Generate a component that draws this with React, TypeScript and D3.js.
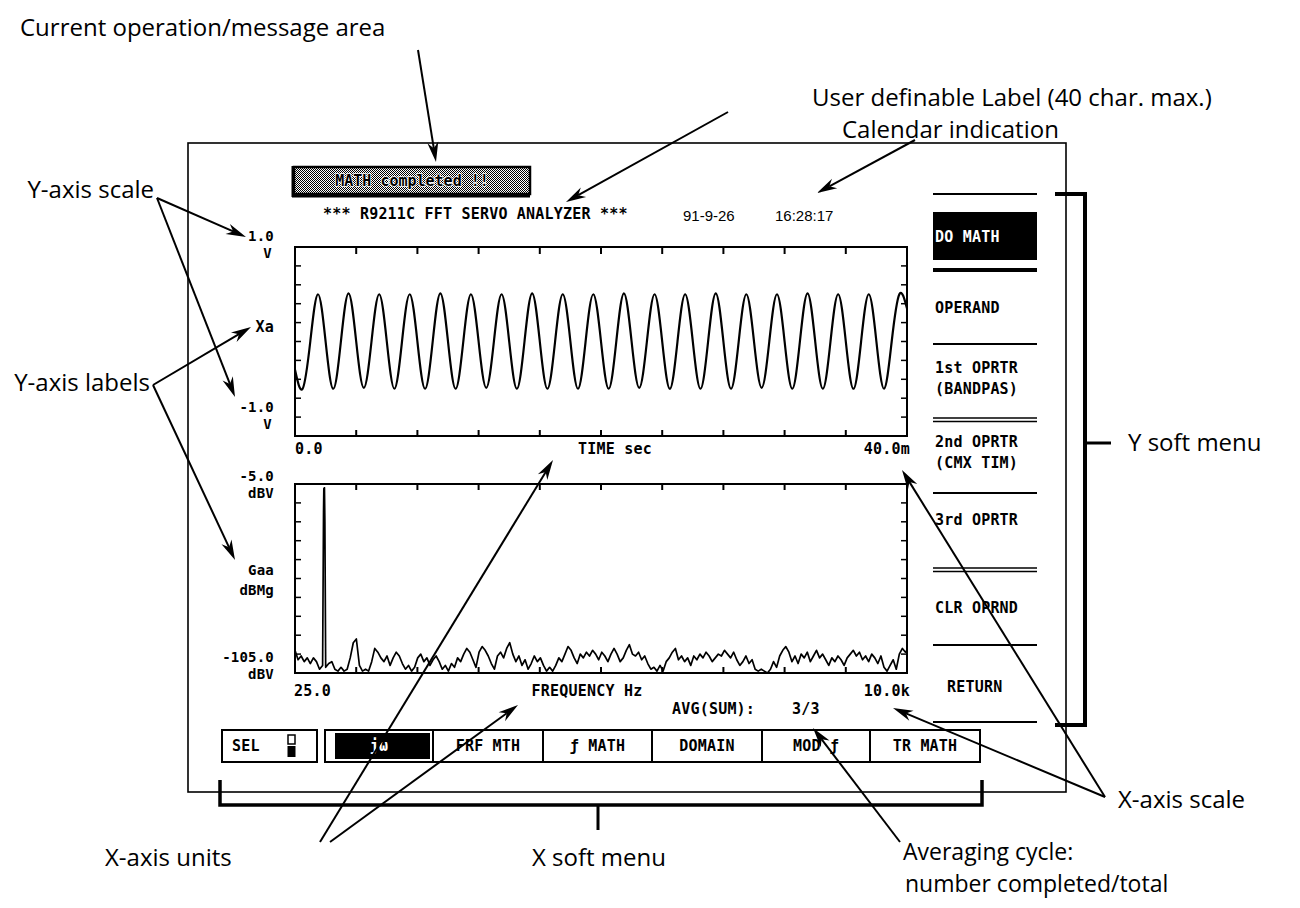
import React from 'react';
import * as d3 from 'd3';

// ---------------- DATA ----------------
const sampleIntervalMs = 0.5;
const waveVolts = [
  -0.30,
  -0.50, 0.00, 0.50, 0.00,
  -0.50, 0.00, 0.51, 0.00,
  -0.49, 0.00, 0.50, 0.00,
  -0.50, 0.01, 0.50, 0.00,
  -0.50, 0.00, 0.51, 0.00,
  -0.50, 0.00, 0.50, 0.00,
  -0.49, 0.00, 0.50, 0.00,
  -0.50, 0.00, 0.51, 0.00,
  -0.50, 0.00, 0.50, 0.00,
  -0.50, 0.01, 0.50, 0.00,
  -0.50, 0.00, 0.51, 0.00,
  -0.49, 0.00, 0.50, 0.00,
  -0.50, 0.00, 0.50, 0.00,
  -0.50, 0.00, 0.51, 0.00,
  -0.50, 0.00, 0.50, 0.00,
  -0.49, 0.00, 0.50, 0.00,
  -0.50, 0.00, 0.51, 0.00,
  -0.50, 0.00, 0.50, 0.00,
  -0.50, 0.00, 0.50, 0.00,
  -0.50, 0.00, 0.50, 0.35,
];

const spectrumStartHz = 25;
const spectrumStepHz = 50;
const noiseDbv = [
  -93, -98, -96, -99, -97, -100, -97, -99, -103, -101,
  -102, -100, -99, -103, -104, -102, -104, -103, -97, -89,
  -87, -101, -104, -103, -104, -99, -92, -94, -97, -99,
  -96, -101, -97, -94, -96, -100, -103, -101, -104, -102,
  -97, -95, -99, -97, -101, -98, -96, -99, -103, -101,
  -104, -100, -102, -97, -99, -95, -92, -94, -98, -102,
  -94, -91, -93, -96, -100, -103, -96, -94, -97, -92,
  -89, -95, -99, -96, -101, -98, -103, -100, -96, -99,
  -97, -101, -104, -102, -104, -101, -97, -99, -95, -91,
  -93, -97, -100, -95, -97, -94, -96, -93, -95, -98,
  -94, -96, -99, -95, -92, -95, -99, -97, -93, -90,
  -95, -96, -94, -98, -96, -100, -103, -102, -104, -101,
  -104, -99, -97, -94, -92, -98, -96, -99, -97, -101,
  -96, -98, -95, -97, -94, -96, -99, -97, -95, -96,
  -93, -95, -97, -94, -98, -101, -99, -96, -100, -98,
  -103, -104, -103, -104, -105, -103, -99, -102, -96, -93,
  -91, -94, -99, -96, -100, -95, -97, -94, -99, -96,
  -93, -97, -95, -98, -101, -97, -99, -96, -98, -101,
  -97, -95, -93, -96, -94, -98, -96, -99, -95, -97,
  -100, -96, -102, -104, -101, -98, -103, -95, -92, -94,
];
const spectrumEndHz = 10000;
const spectrumEndDbv = -93;
const carrierHz = [490, 495, 505, 512];
const carrierDbv = [-20, -7.5, -7, -25];

const timeTicksMs = [4, 8, 12, 16, 20, 24, 28, 32, 36];
const voltTicks = [-0.8, -0.6, -0.4, -0.2, 0, 0.2, 0.4, 0.6, 0.8];
const freqTicksHz = [1022.5, 2020, 3017.5, 4015, 5012.5, 6010, 7007.5, 8005, 9002.5];
const dbTicks = [-95, -85, -75, -65, -55, -45, -35, -25, -15];

const ySoftMenu = [
  ['DO MATH'],
  ['OPERAND'],
  ['1st OPRTR', '(BANDPAS)'],
  ['2nd OPRTR', '(CMX TIM)'],
  ['3rd OPRTR'],
  ['CLR OPRND'],
  ['RETURN'],
];
const xSoftMenu = ['jω', 'FRF MTH', 'ƒ MATH', 'DOMAIN', 'MOD ƒ', 'TR MATH'];

// ---------------- LAYOUT ----------------
const W = 1300, H = 908;
const PX0 = 295, PX1 = 907;
const TOP = { y0: 247, y1: 436 };
const BOT = { y0: 484, y1: 673 };
const MONO = "'DejaVu Sans Mono', monospace";
const SANS = "'Open Sans', 'Noto Sans', sans-serif";

function Arrow({ x1, y1, x2, y2 }: { x1: number; y1: number; x2: number; y2: number }) {
  const a = Math.atan2(y2 - y1, x2 - x1);
  const L = 20, hw = 5.5;
  const dx = Math.cos(a), dy = Math.sin(a);
  const px = -dy, py = dx;
  const bl = [x2 - L * dx + hw * px, y2 - L * dy + hw * py];
  const br = [x2 - L * dx - hw * px, y2 - L * dy - hw * py];
  const notch = [x2 - 0.7 * L * dx, y2 - 0.7 * L * dy];
  return (
    <g>
      <line x1={x1} y1={y1} x2={notch[0]} y2={notch[1]} stroke="#000" strokeWidth={2} />
      <polygon points={`${x2},${y2} ${bl[0]},${bl[1]} ${notch[0]},${notch[1]} ${br[0]},${br[1]}`} fill="#000" />
    </g>
  );
}

function Screen(props: any) {
  const { children, ...rest } = props;
  return (
    <text fontFamily={MONO} fontWeight="bold" fontSize={15} letterSpacing={0.2} fill="#000" {...rest}>
      {children}
    </text>
  );
}

function Note(props: any) {
  const { children, ...rest } = props;
  return (
    <text fontFamily={SANS} fontSize={24} fill="#000" {...rest}>
      {children}
    </text>
  );
}

export default function App() {
  const xTime = d3.scaleLinear().domain([0, 40]).range([PX0, PX1]);
  const yVolt = d3.scaleLinear().domain([-1, 1]).range([TOP.y1, TOP.y0]);
  const xFreq = d3.scaleLinear().domain([25, 10000]).range([PX0, PX1]);
  const yDb = d3.scaleLinear().domain([-105, -5]).range([BOT.y1, BOT.y0]);

  const wavePts = waveVolts.map((v, i) => [i * sampleIntervalMs, v] as [number, number]);
  const wavePath = d3.line<[number, number]>()
    .x(d => xTime(d[0]))
    .y(d => yVolt(d[1]))
    .curve(d3.curveNatural)(wavePts) || '';

  const specPts: [number, number][] = noiseDbv.map((v, i) => [spectrumStartHz + i * spectrumStepHz, v] as [number, number]);
  specPts.push([spectrumEndHz, spectrumEndDbv]);
  carrierHz.forEach((f, i) => specPts.push([f, carrierDbv[i]]));
  specPts.sort((a, b) => a[0] - b[0]);
  const specPath = d3.line<[number, number]>()
    .x(d => xFreq(d[0]))
    .y(d => yDb(Math.max(-105, d[1])))(specPts) || '';

  const tickLen = 6;

  const plotFrame = (y0: number, y1: number) => (
    <rect x={PX0} y={y0} width={PX1 - PX0} height={y1 - y0} fill="none" stroke="#000" strokeWidth={2} />
  );

  const seps = [
    { y: 194, w: 2, dbl: false },
    { y: 270, w: 4, dbl: false },
    { y: 344, w: 2, dbl: false },
    { y: 420, w: 2, dbl: true },
    { y: 493, w: 2, dbl: false },
    { y: 570, w: 2, dbl: true },
    { y: 645, w: 2, dbl: false },
    { y: 722, w: 2, dbl: false },
  ];
  const menuCenters = [237, 308, 378, 452, 520, 608, 687];
  const MX0 = 933, MX1 = 1037;

  const cellEdges = [325, 433, 543, 652, 762, 870, 980];
  const BY0 = 730, BY1 = 762;

  return (
    <svg width={W} height={H} style={{ position: 'absolute', left: 0, top: 0, background: '#fff' }}>
      <defs>
        <pattern id="stipple" width={2} height={2} patternUnits="userSpaceOnUse">
          <rect width={2} height={2} fill="#fff" />
          <rect x={0} y={0} width={1} height={1} fill="#000" />
          <rect x={1} y={1} width={1} height={1} fill="#000" />
        </pattern>
      </defs>
      <rect width={W} height={H} fill="#fff" />

      {/* screen frame */}
      <rect x={188} y={143} width={878} height={649} fill="none" stroke="#000" strokeWidth={1.6} />

      {/* message area */}
      <rect x={294} y={167} width={236} height={27} fill="url(#stipple)" stroke="#000" strokeWidth={2.5} />
      <line x1={293} y1={166} x2={293} y2={197} stroke="#000" strokeWidth={3} />
      <line x1={292} y1={196} x2={530} y2={196} stroke="#000" strokeWidth={3} />
      <text x={412} y={186} textAnchor="middle" fontFamily={MONO} fontWeight="bold" fontSize={15} fill="#000"
        stroke="#fff" strokeWidth={1.5} paintOrder="stroke">MATH completed !!</text>

      <Screen x={323} y={219}>*** R9211C FFT SERVO ANALYZER ***</Screen>
      <text x={683} y={221} fontFamily="'Liberation Sans', Arial, sans-serif" fontSize={15} fill="#000">91-9-26</text>
      <text x={775} y={221} fontFamily="'Liberation Sans', Arial, sans-serif" fontSize={15} fill="#000">16:28:17</text>

      {/* ---------- top plot (time) ---------- */}
      {plotFrame(TOP.y0, TOP.y1)}
      {voltTicks.map(v => (
        <g key={'vt' + v}>
          <line x1={PX0} x2={PX0 + tickLen} y1={yVolt(v)} y2={yVolt(v)} stroke="#000" strokeWidth={1.5} />
          <line x1={PX1} x2={PX1 - tickLen} y1={yVolt(v)} y2={yVolt(v)} stroke="#000" strokeWidth={1.5} />
        </g>
      ))}
      {timeTicksMs.map(t => (
        <g key={'tt' + t}>
          <line x1={xTime(t)} x2={xTime(t)} y1={TOP.y0} y2={TOP.y0 + tickLen + 1} stroke="#000" strokeWidth={2} />
          <line x1={xTime(t)} x2={xTime(t)} y1={TOP.y1} y2={TOP.y1 - tickLen} stroke="#000" strokeWidth={2} />
        </g>
      ))}
      <path d={wavePath} fill="none" stroke="#000" strokeWidth={2.2} />

      <Screen x={274} y={241} fontSize={14} textAnchor="end">1.0</Screen>
      <Screen x={272} y={258} fontSize={14} textAnchor="end">V</Screen>
      <Screen x={274} y={332} textAnchor="end">Xa</Screen>
      <Screen x={274} y={412} fontSize={14} textAnchor="end">-1.0</Screen>
      <Screen x={272} y={429} fontSize={14} textAnchor="end">V</Screen>
      <Screen x={295} y={454}>0.0</Screen>
      <Screen x={615} y={454} textAnchor="middle">TIME sec</Screen>
      <Screen x={910} y={454} textAnchor="end">40.0m</Screen>

      {/* ---------- bottom plot (spectrum) ---------- */}
      {plotFrame(BOT.y0, BOT.y1)}
      {dbTicks.map(v => (
        <g key={'dt' + v}>
          <line x1={PX0} x2={PX0 + tickLen} y1={yDb(v)} y2={yDb(v)} stroke="#000" strokeWidth={1.5} />
          <line x1={PX1} x2={PX1 - tickLen} y1={yDb(v)} y2={yDb(v)} stroke="#000" strokeWidth={1.5} />
        </g>
      ))}
      {freqTicksHz.map(f => (
        <g key={'ft' + f}>
          <line x1={xFreq(f)} x2={xFreq(f)} y1={BOT.y0} y2={BOT.y0 + tickLen} stroke="#000" strokeWidth={2} />
          <line x1={xFreq(f)} x2={xFreq(f)} y1={BOT.y1} y2={BOT.y1 - tickLen} stroke="#000" strokeWidth={2} />
        </g>
      ))}
      <path d={specPath} fill="none" stroke="#000" strokeWidth={1.7} strokeLinejoin="round" />

      <Screen x={274} y={481} fontSize={14} textAnchor="end">-5.0</Screen>
      <Screen x={274} y={498} fontSize={14} textAnchor="end">dBV</Screen>
      <Screen x={274} y={575} fontSize={14} textAnchor="end">Gaa</Screen>
      <Screen x={274} y={595} fontSize={14} textAnchor="end">dBMg</Screen>
      <Screen x={274} y={662} fontSize={14} textAnchor="end">-105.0</Screen>
      <Screen x={274} y={679} fontSize={14} textAnchor="end">dBV</Screen>
      <Screen x={294} y={696}>25.0</Screen>
      <Screen x={587} y={696} textAnchor="middle">FREQUENCY Hz</Screen>
      <Screen x={910} y={696} textAnchor="end">10.0k</Screen>
      <Screen x={672} y={714}>AVG(SUM):</Screen>
      <Screen x={792} y={714}>3/3</Screen>

      {/* ---------- Y soft menu ---------- */}
      {seps.map((s, i) => s.dbl ? (
        <g key={'sep' + i}>
          <line x1={MX0} x2={MX1} y1={s.y - 2} y2={s.y - 2} stroke="#000" strokeWidth={1.6} />
          <line x1={MX0} x2={MX1} y1={s.y + 1.5} y2={s.y + 1.5} stroke="#000" strokeWidth={1.6} />
        </g>
      ) : (
        <line key={'sep' + i} x1={MX0} x2={MX1} y1={s.y} y2={s.y} stroke="#000" strokeWidth={s.w} />
      ))}
      <rect x={MX0} y={212} width={MX1 - MX0} height={48} fill="#000" />
      {ySoftMenu.map((lines, i) => {
        const cy = menuCenters[i];
        const n = lines.length;
        return lines.map((ln, j) => (
          <Screen key={'ym' + i + j}
            x={ln === 'RETURN' ? 947 : 935}
            y={cy + 5 + (j - (n - 1) / 2) * 21}
            fill={i === 0 ? '#fff' : '#000'}>{ln}</Screen>
        ));
      })}

      {/* ---------- X soft menu ---------- */}
      <rect x={222} y={BY0} width={95} height={BY1 - BY0} fill="none" stroke="#000" strokeWidth={2} />
      <Screen x={232} y={751}>SEL</Screen>
      <rect x={288} y={735} width={7} height={9} fill="none" stroke="#000" strokeWidth={1.5} />
      <rect x={287.5} y={746} width={8} height={11} fill="#000" />
      <rect x={cellEdges[0]} y={BY0} width={cellEdges[6] - cellEdges[0]} height={BY1 - BY0} fill="none" stroke="#000" strokeWidth={2} />
      {cellEdges.slice(1, 6).map(x => (
        <line key={'ce' + x} x1={x} x2={x} y1={BY0} y2={BY1} stroke="#000" strokeWidth={2} />
      ))}
      <rect x={335} y={733} width={95} height={26} fill="#000" />
      {xSoftMenu.map((lab, i) => (
        <Screen key={'xm' + i} x={(cellEdges[i] + cellEdges[i + 1]) / 2} y={751} textAnchor="middle"
          fill={i === 0 ? '#fff' : '#000'}>{lab}</Screen>
      ))}

      {/* ---------- brackets ---------- */}
      <path d="M1055,194 H1085 V725 H1055" fill="none" stroke="#000" strokeWidth={4} />
      <line x1={1085} x2={1111} y1={443} y2={443} stroke="#000" strokeWidth={3} />
      <path d="M220,780 V805 H982 V780" fill="none" stroke="#000" strokeWidth={3.5} />
      <line x1={598} x2={598} y1={805} y2={830} stroke="#000" strokeWidth={3} />

      {/* ---------- annotation arrows ---------- */}
      <Arrow x1={418} y1={50} x2={436} y2={162} />
      <Arrow x1={728} y1={112} x2={566} y2={202} />
      <Arrow x1={915} y1={140} x2={817} y2={193} />
      <Arrow x1={157} y1={198} x2={246} y2={237} />
      <Arrow x1={157} y1={198} x2={235} y2={397} />
      <Arrow x1={153} y1={385} x2={251} y2={327} />
      <Arrow x1={153} y1={385} x2={235} y2={560} />
      <Arrow x1={320} y1={842} x2={553} y2={460} />
      <Arrow x1={330} y1={842} x2={518} y2={705} />
      <Arrow x1={1105} y1={797} x2={902} y2={470} />
      <Arrow x1={1105} y1={797} x2={893} y2={708} />
      <Arrow x1={900} y1={842} x2={813} y2={728} />

      {/* ---------- annotation texts ---------- */}
      <Note x={20} y={36}>Current operation/message area</Note>
      <Note x={812} y={106}>User definable Label (40 char. max.)</Note>
      <Note x={842} y={138}>Calendar indication</Note>
      <Note x={154} y={198} textAnchor="end">Y-axis scale</Note>
      <Note x={150} y={391} textAnchor="end">Y-axis labels</Note>
      <Note x={1128} y={451}>Y soft menu</Note>
      <Note x={1118} y={808}>X-axis scale</Note>
      <Note x={105} y={866}>X-axis units</Note>
      <Note x={599} y={866} textAnchor="middle">X soft menu</Note>
      <Note x={903} y={860} fontSize={23}>Averaging cycle:</Note>
      <Note x={905} y={892} fontSize={23}>number completed/total</Note>
    </svg>
  );
}
